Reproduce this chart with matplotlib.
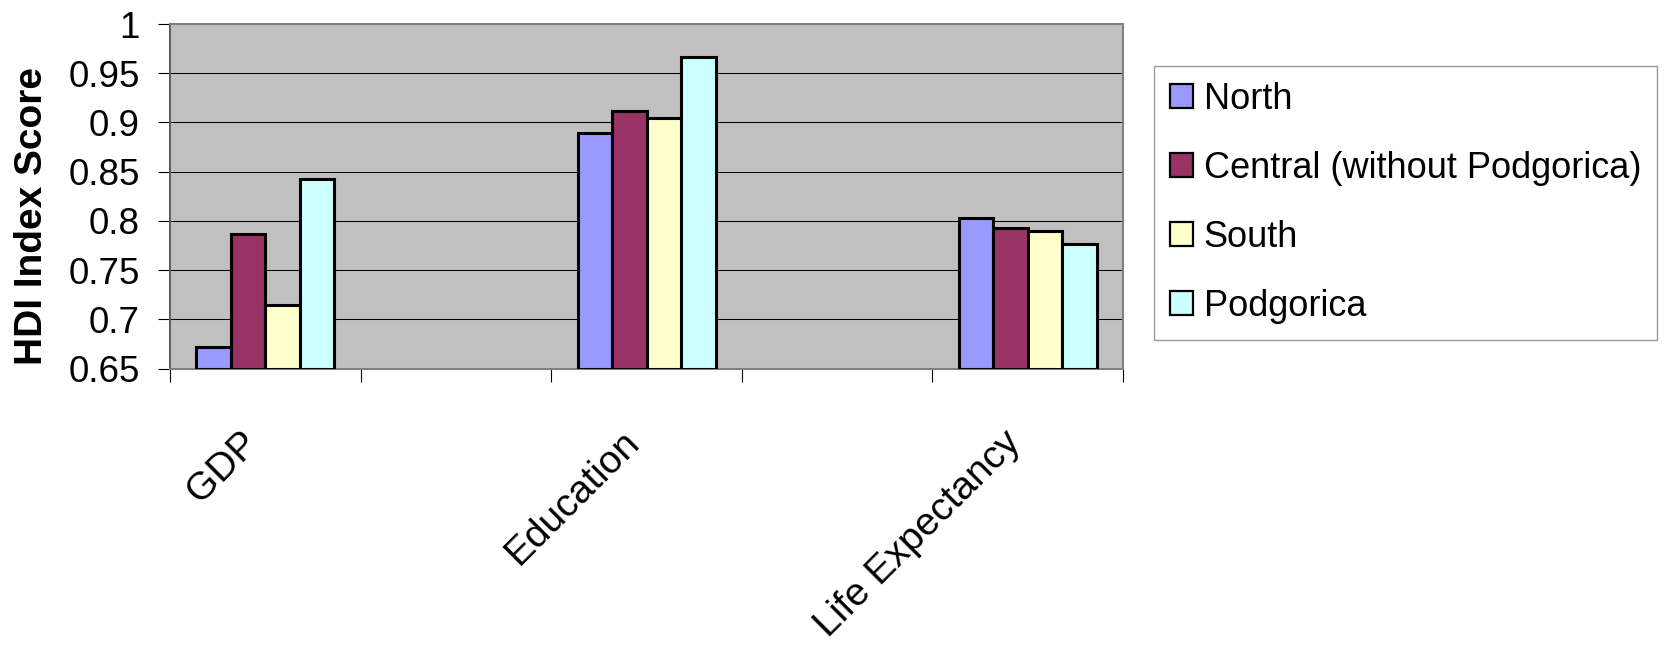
import numpy as np
import matplotlib
matplotlib.use('Agg')
import matplotlib.pyplot as plt
from matplotlib.ticker import FixedLocator, FuncFormatter

plt.rcParams['font.family'] = ['Liberation Sans', 'DejaVu Sans']

# data (two empty category slots as in the original sheet)
categories = ['GDP', '', 'Education', '', 'Life Expectancy']
regions = ['North', 'Central (without Podgorica)', 'South', 'Podgorica']
north = [0.672, np.nan, 0.889, np.nan, 0.803]
central = [0.787, np.nan, 0.912, np.nan, 0.793]
south = [0.715, np.nan, 0.905, np.nan, 0.790]
podgorica = [0.843, np.nan, 0.967, np.nan, 0.777]
colors = ['#9999FF', '#993366', '#FFFFCC', '#CCFFFF']
y_ticks = [0.65, 0.7, 0.75, 0.8, 0.85, 0.9, 0.95, 1.0]


def main():
    fig = plt.figure(figsize=(16.67, 6.54), dpi=100)
    ax = fig.add_axes([0.10198, 0.43624, 0.57169, 0.52706])
    ax.set_facecolor('#C0C0C0')

    x = np.arange(len(categories))
    width = 0.181
    series = [north, central, south, podgorica]
    for i, (vals, name, col) in enumerate(zip(series, regions, colors)):
        vals = np.array(vals, dtype=float)
        ok = ~np.isnan(vals)
        ax.bar(x[ok] + (i - 1.5) * width, vals[ok] - 0.65, width, bottom=0.65,
               color=col, edgecolor='black', linewidth=2.2, label=name, zorder=3)

    ax.set_xlim(-0.5, len(categories) - 0.5)
    ax.set_ylim(0.65, 1.0)

    # y axis
    ax.yaxis.set_major_locator(FixedLocator(y_ticks))
    ax.yaxis.set_major_formatter(FuncFormatter(lambda v, p: '%g' % round(v, 2)))
    ax.tick_params(axis='y', length=8.6, width=0.8, color='black', pad=13,
                   labelsize=26.5)
    ax.yaxis.grid(True, color='black', linewidth=0.75)
    ax.set_axisbelow(True)

    # x axis: labels at centres, tick marks between categories
    ax.set_xticks(x)
    ax.set_xticklabels(categories, rotation=45, ha='right')
    ax.set_xticks(np.arange(-0.5, len(categories), 1), minor=True)
    ax.tick_params(axis='x', which='major', length=9, color=(0, 0, 0, 0),
                   labelsize=28, pad=31)
    ax.tick_params(axis='x', which='minor', length=9, width=0.8, color='black')

    for side in ['top', 'right', 'bottom']:
        ax.spines[side].set_color('#808080')
        ax.spines[side].set_linewidth(1.5)
    ax.spines['left'].set_color('#606060')
    ax.spines['left'].set_linewidth(1.5)

    ax.set_ylabel('HDI Index Score', fontsize=28, fontweight='bold')
    ax.yaxis.set_label_coords(-0.126, 0.4436)

    leg = ax.legend(loc='upper left', bbox_to_anchor=(0.6923, 0.8995),
                    bbox_transform=fig.transFigure, fontsize=26,
                    frameon=True, fancybox=False, shadow=False,
                    handlelength=0.62, handleheight=0.64, handletextpad=0.3,
                    labelspacing=0.94, borderpad=0.45, borderaxespad=0)
    leg.get_frame().set_edgecolor('#808080')
    leg.get_frame().set_linewidth(1.0)
    for h in leg.legend_handles:
        h.set_linewidth(1.6)

    fig.savefig('out.png', dpi=100)


if __name__ == "__main__":
    main()
